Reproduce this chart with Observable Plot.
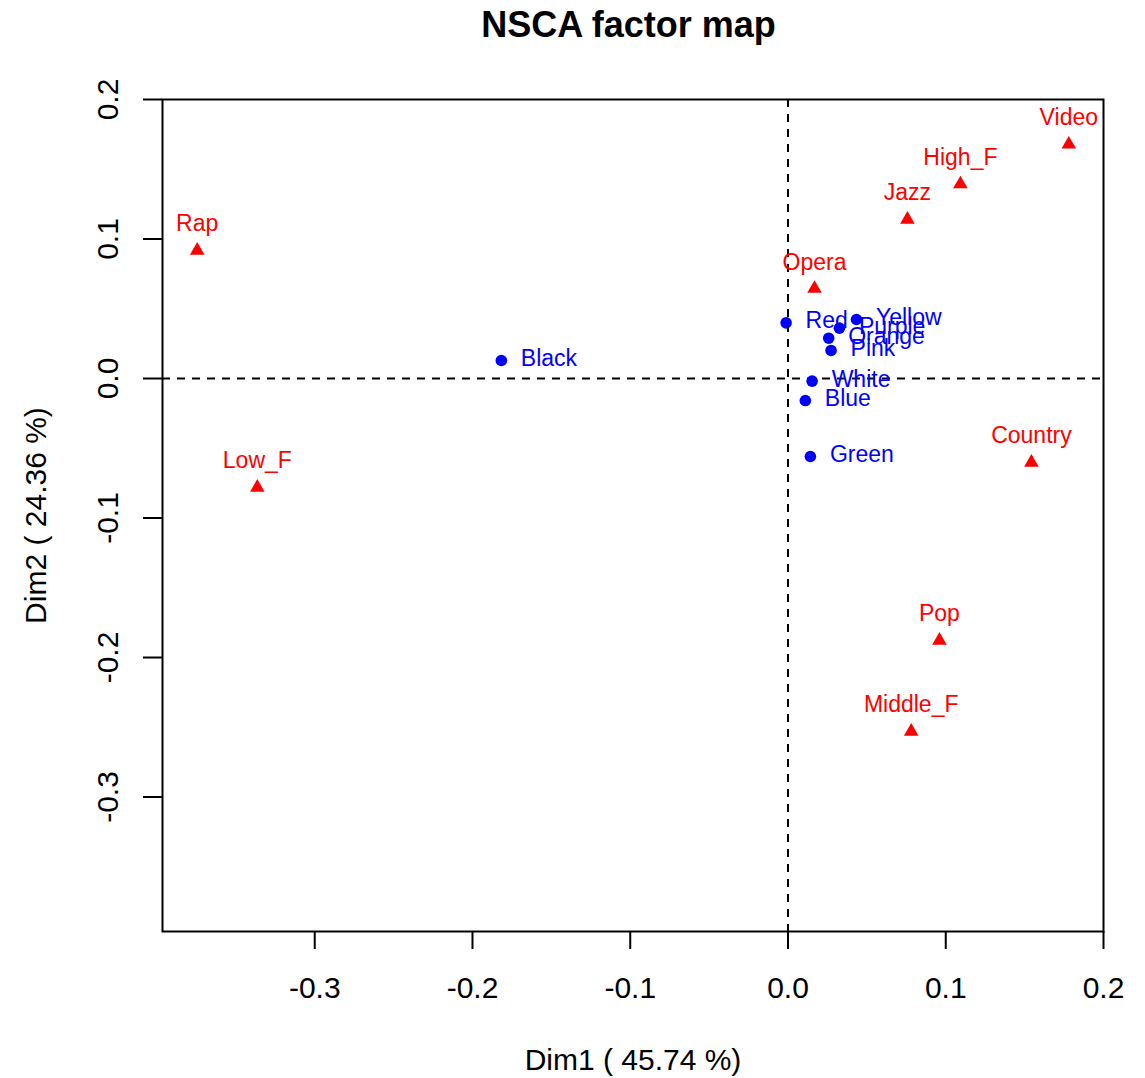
<!DOCTYPE html>
<html><head><meta charset="utf-8">
<script src="https://cdn.jsdelivr.net/npm/d3@7"></script>
<script src="https://cdn.jsdelivr.net/npm/@observablehq/plot@0.6"></script>
<style>
body{margin:0;background:#fff;}
#wrap{position:relative;width:1145px;height:1078px;font-family:"Liberation Sans",Arial,sans-serif;background:#fff;}
#title{position:absolute;left:628.5px;top:6.5px;transform:translateX(-50%);font-size:36px;line-height:36px;font-weight:bold;white-space:nowrap;color:#000;}
#chart{position:absolute;left:0;top:50px;}
</style></head><body>
<div id="wrap"><div id="title">NSCA factor map</div><div id="chart"></div></div>
<script>
// Row points (colours)
const rowNames = ["Black","Red","Yellow","Purple","Orange","Pink","White","Blue","Green"];
const rowDim1  = [-0.1817,-0.0012,0.0434,0.0326,0.0258,0.0273,0.0153,0.0110,0.0142];
const rowDim2  = [0.0129,0.0399,0.0423,0.0361,0.0289,0.0201,-0.0019,-0.0158,-0.0559];
// Column points (music genres)
const colNames = ["Rap","Low_F","Opera","Jazz","High_F","Video","Country","Pop","Middle_F"];
const colDim1  = [-0.3745,-0.3364,0.0168,0.0757,0.1093,0.1780,0.1543,0.0960,0.0781];
const colDim2  = [0.0918,-0.0781,0.0645,0.1140,0.1394,0.1679,-0.0602,-0.1878,-0.2530];
// Ticks and labels
const xTicks = [-0.3,-0.2,-0.1,0.0,0.1,0.2];
const yTicks = [-0.3,-0.2,-0.1,0.0,0.1,0.2];
const xLabel = "Dim1 ( 45.74 %)";
const yLabel = "Dim2 ( 24.36 %)";

const rows = rowNames.map((name,i)=>({name, d1: rowDim1[i], d2: rowDim2[i]}));
const cols = colNames.map((name,i)=>({name, d1: colDim1[i], d2: colDim2[i]}));
const fmt = d => d.toFixed(1);

const plot = Plot.plot({
  width:1145, height:1028,
  marginTop:49, marginBottom:147, marginLeft:162, marginRight:42,
  style:{fontFamily:'"Liberation Sans", Arial, sans-serif', fontSize:"30px", background:"white", color:"black", overflow:"visible"},
  x:{domain:[-0.3965,0.2]},
  y:{domain:[-0.3964,0.2]},
  marks:[
    Plot.ruleX([0],{strokeDasharray:"8,7",strokeWidth:2}),
    Plot.ruleY([0],{strokeDasharray:"8,7",strokeWidth:2}),
    Plot.frame({strokeWidth:2}),
    Plot.axisX(xTicks,{tickSize:18,tickPadding:27,tickFormat:fmt,fontSize:30,strokeWidth:2,label:null}),
    Plot.axisY(yTicks,{tickSize:19,tickPadding:25.7,tickRotate:-90,tickFormat:fmt,fontSize:30,strokeWidth:2,label:null}),
    Plot.dot(rows,{x:"d1",y:"d2",r:5.8,fill:"#0000FF"}),
    Plot.text(rows,{x:"d1",y:"d2",text:"name",dx:19.5,dy:-2,textAnchor:"start",fill:"#0000FF",fontSize:23}),
    Plot.dot(cols,{x:"d1",y:"d2",r:5.4,symbol:"triangle",fill:"#FF0000"}),
    Plot.text(cols,{x:"d1",y:"d2",text:"name",dy:-19,lineAnchor:"bottom",fill:"#FF0000",fontSize:23}),
    Plot.text([xLabel],{frameAnchor:"bottom",dy:138,lineAnchor:"bottom",textAnchor:"middle",fontSize:30}),
    Plot.text([yLabel],{frameAnchor:"left",dx:-117,rotate:-90,lineAnchor:"bottom",textAnchor:"middle",fontSize:30})
  ]
});
document.getElementById("chart").appendChild(plot);
</script></body></html>
